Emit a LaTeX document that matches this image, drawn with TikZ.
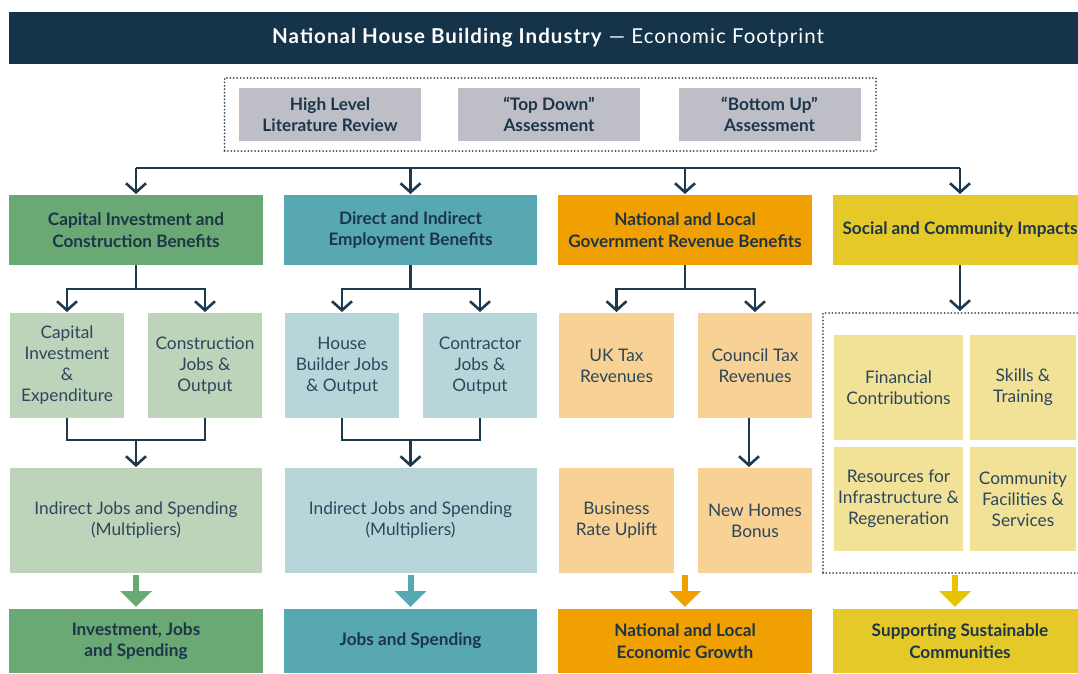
\documentclass[tikz,border=0pt]{standalone}
\usepackage{fontspec}
\setmainfont{Lato}
\newfontfamily\titlefont[LetterSpace=5]{Lato}
\usetikzlibrary{arrows.meta}
\definecolor{navy}{HTML}{15344A}
\definecolor{ink}{HTML}{1C3549}
\definecolor{subink}{HTML}{2C465B}
\definecolor{linec}{HTML}{1D394E}
\definecolor{dotc}{HTML}{3A5266}
\definecolor{grayb}{HTML}{BEBEC7}
\definecolor{cgreen}{HTML}{6AA874}
\definecolor{lgreen}{HTML}{BDD4BB}
\definecolor{cteal}{HTML}{57A8B3}
\definecolor{lteal}{HTML}{B8D6DA}
\definecolor{corange}{HTML}{F0A000}
\definecolor{lorange}{HTML}{F8D194}
\definecolor{cyellow}{HTML}{E5C928}
\definecolor{lyellow}{HTML}{F2E298}
\definecolor{ayellow}{HTML}{E6C400}
\begin{document}
\begin{tikzpicture}[x=1pt,y=-1pt,
  box/.style={inner sep=0pt, outer sep=0pt, align=center, text=ink},
  head/.style={box, font=\bfseries\fontsize{17.2pt}{21.5pt}\selectfont, minimum height=70pt, minimum width=254pt},
  foot/.style={box, font=\bfseries\fontsize{17.2pt}{21.5pt}\selectfont, minimum height=64pt, minimum width=254pt},
  gbox/.style={box, fill=grayb, font=\bfseries\fontsize{17.2pt}{21.5pt}\selectfont, minimum width=182pt, minimum height=53pt},
  sub/.style={box, text=subink, font=\fontsize{17.3pt}{21pt}\selectfont, minimum width=114pt, minimum height=105pt},
  line/.style={draw=linec, line width=2.6pt},
  arr/.style={line, -{Straight Barb[length=9pt,width=20pt]}, shorten >=1pt},
  fat/.style={line width=6pt, -{Triangle[length=16pt,width=31pt]}, shorten <=2pt, shorten >=2pt},
  dots/.style={draw=dotc, line width=2pt, line cap=round, dash pattern=on 0pt off 3.4pt, inner sep=0pt, outer sep=0pt}
]
\useasboundingbox (0,0) rectangle (1078,673);

% title
\node[box, fill=navy, text=white, minimum width=1078pt, minimum height=52pt,
      font=\titlefont\fontsize{20.5pt}{24pt}\selectfont] (title) at (548,38)
  {\textbf{National House Building Industry} — Economic Footprint};

% assessment methods
\node[dots, minimum width=651.5pt, minimum height=73pt] (assess) at (550.25,114.5) {};
\node[gbox] (g1) at (330,114.5) {High Level\\Literature Review};
\node[gbox] (g2) at (549,114.5) {“Top Down”\\Assessment};
\node[gbox] (g3) at (769.5,114.5) {“Bottom Up”\\Assessment};

% column heads
\node[head, fill=cgreen] (c1) at (136,230) {Capital Investment and\\Construction Benefits};
\node[head, fill=cteal, minimum width=253pt] (c2) at (410.5,230) {Direct and Indirect\\Employment Benefits};
\node[head, fill=corange] (c3) at (685,230) {National and Local\\Government Revenue Benefits};
\node[head, fill=cyellow] (c4) at (960,230) {Social and Community Impacts};

% second row
\node[sub, fill=lgreen] (s11) at (67,365.5) {Capital\\Investment\\\&\\Expenditure};
\node[sub, fill=lgreen] (s12) at (205,365.5) {Construction\\Jobs \&\\Output};
\node[sub, fill=lteal] (s21) at (342,365.5) {House\\Builder Jobs\\\& Output};
\node[sub, fill=lteal] (s22) at (480,365.5) {Contractor\\Jobs \&\\Output};
\node[sub, fill=lorange, minimum width=115pt] (s31) at (616.5,365.5) {UK Tax\\Revenues};
\node[sub, fill=lorange] (s32) at (755,365.5) {Council Tax\\Revenues};

% social group
\node[dots, minimum width=264pt, minimum height=260pt] (cd) at (955,443) {};
\node[sub, fill=lyellow, minimum width=129pt] (i1) at (898.5,387.5) {Financial\\Contributions};
\node[sub, fill=lyellow, minimum width=106pt] (i2) at (1023,387.5) {Skills \&\\Training};
\node[sub, fill=lyellow, minimum width=129pt, minimum height=104pt] (i3) at (898.5,499) {Resources for\\Infrastructure \&\\Regeneration};
\node[sub, fill=lyellow, minimum width=106pt, minimum height=104pt] (i4) at (1023,499) {Community\\Facilities \&\\Services};

% third row
\node[sub, fill=lgreen, minimum width=252pt] (m1) at (136,520.5) {Indirect Jobs and Spending\\(Multipliers)};
\node[sub, fill=lteal, minimum width=252pt] (m2) at (410.5,520.5) {Indirect Jobs and Spending\\(Multipliers)};
\node[sub, fill=lorange, minimum width=115pt] (m3a) at (616.5,520.5) {Business\\Rate Uplift};
\node[sub, fill=lorange] (m3b) at (755,520.5) {New Homes\\Bonus};

% outcomes
\node[foot, fill=cgreen] (b1) at (136,641) {Investment, Jobs\\and Spending};
\node[foot, fill=cteal, minimum width=253pt] (b2) at (410.5,641) {Jobs and Spending};
\node[foot, fill=corange] (b3) at (685,641) {National and Local\\Economic Growth};
\node[foot, fill=cyellow] (b4) at (960,641) {Supporting Sustainable\\Communities};

% top bus
\coordinate (bus) at (548,168);
\draw[line] (bus -| c1.north) -- (bus -| c4.north);
\foreach \c in {c1,c2,c3,c4} \draw[arr] (bus -| \c.north) -- (\c.north);

% forks
\coordinate (f1) at (136,289);
\coordinate (f2) at (410.5,289);
\coordinate (f3) at (685,289);
\draw[line] (c1.south) -- (f1);
\draw[arr] (f1) -| (s11.north);
\draw[arr] (f1) -| (s12.north);
\draw[line] (c2.south) -- (f2);
\draw[arr] (f2) -| (s21.north);
\draw[arr] (f2) -| (s22.north);
\draw[line] (c3.south) -- (f3);
\draw[arr] (f3) -| (s31.north);
\draw[arr] (f3) -| (s32.north);
\draw[arr, shorten >=2pt] (c4.south) -- (c4.south |- cd.north);

% joins
\coordinate (j1) at (136,440);
\coordinate (j2) at (410.5,440);
\draw[line] (s11.south) -- (s11.south |- j1) -- (s12.south |- j1) -- (s12.south);
\draw[arr] (j1) -- (m1.north);
\draw[line] (s21.south) -- (s21.south |- j2) -- (s22.south |- j2) -- (s22.south);
\draw[arr] (j2) -- (m2.north);
\draw[arr] ([xshift=-6pt]s32.south) -- ([xshift=-6pt]m3b.north);

% outcome arrows
\draw[fat, cgreen] (m1.south) -- (b1.north);
\draw[fat, cteal] (m2.south) -- (b2.north);
\draw[fat, corange] (b3.north |- m3a.south) -- (b3.north);
\draw[fat, ayellow] (cd.south) -- (cd.south |- b4.north);
\end{tikzpicture}
\end{document}
